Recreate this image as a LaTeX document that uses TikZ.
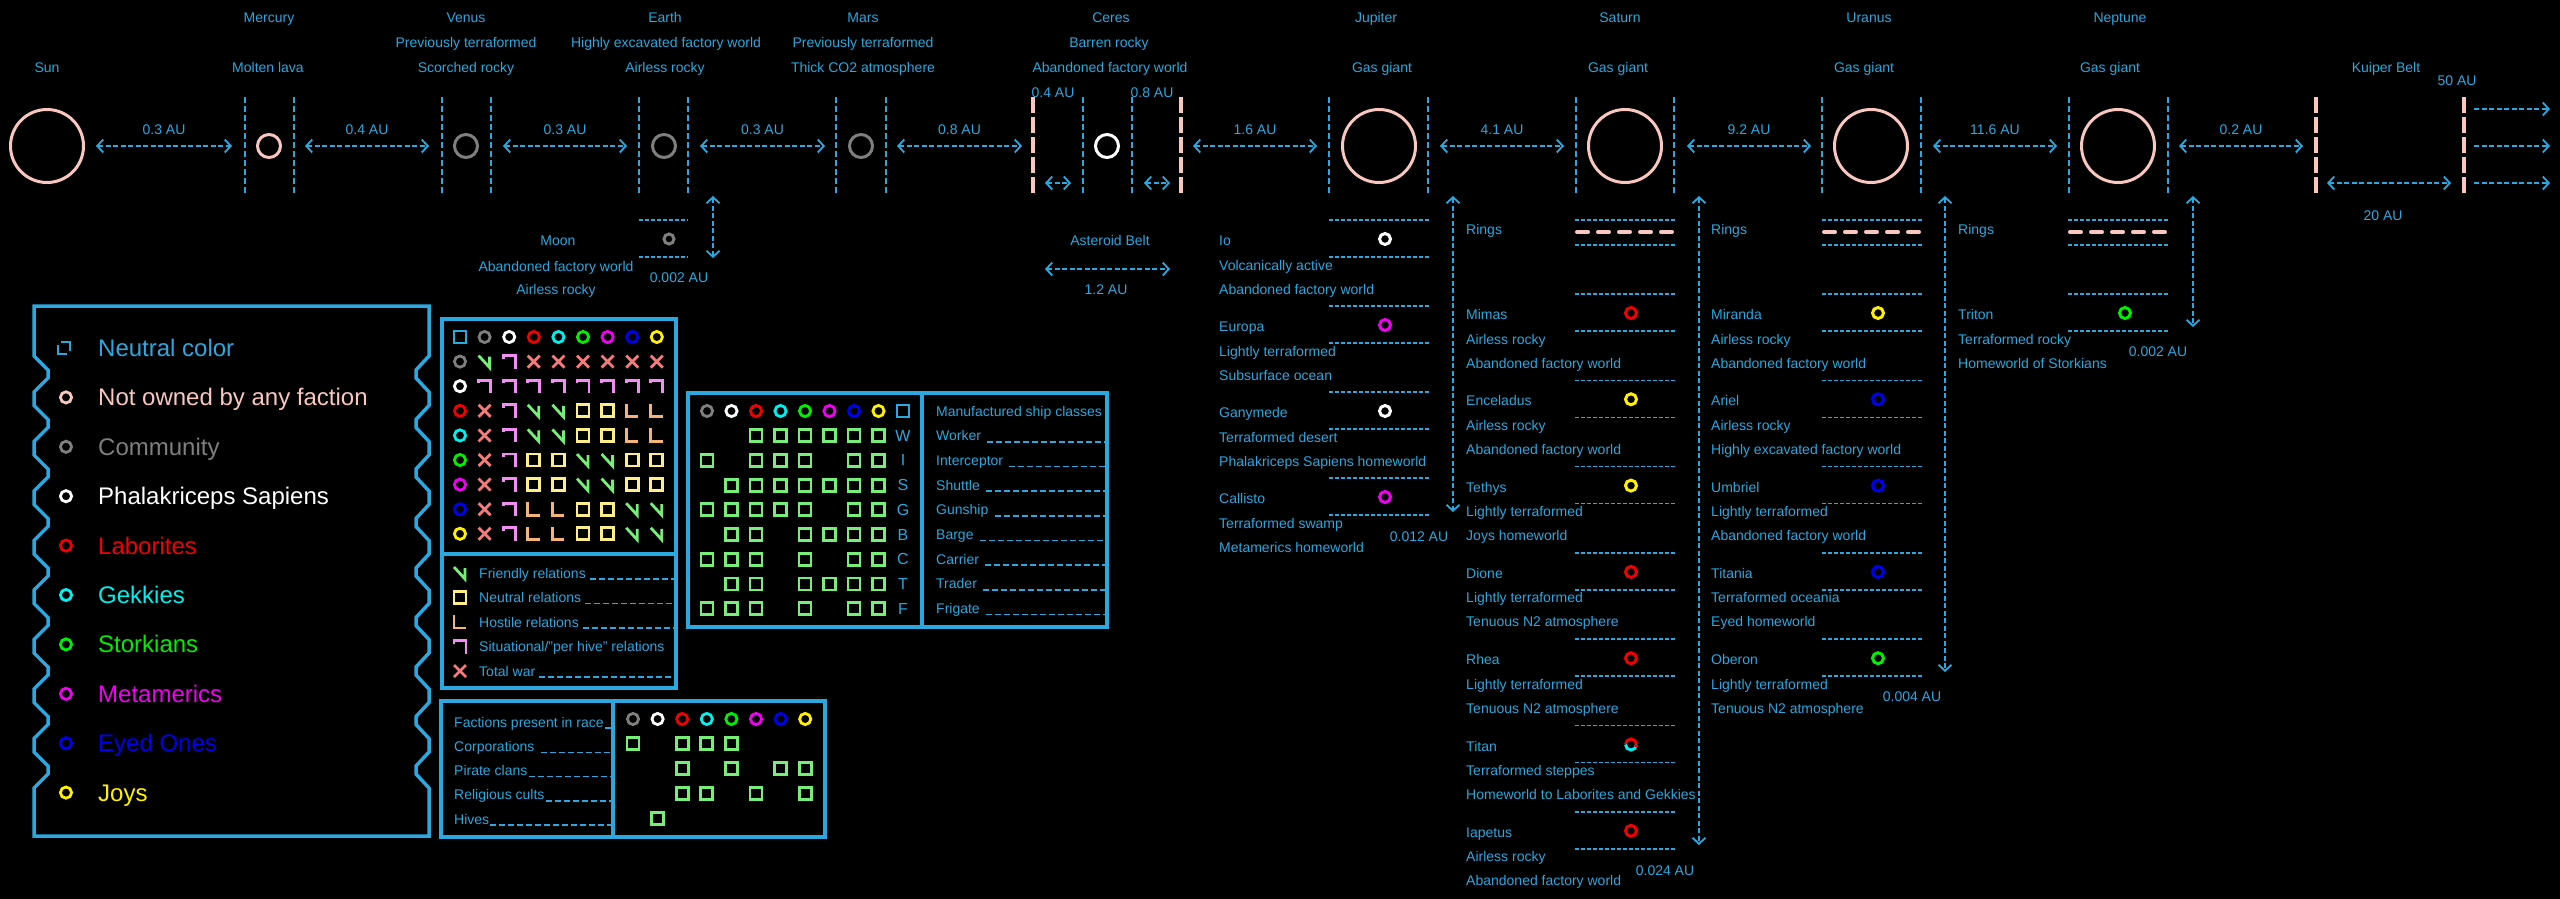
\documentclass[tikz,border=0pt]{standalone}
\usepackage{fontspec}
\setmainfont{Liberation Sans}
\usetikzlibrary{arrows.meta,calc}
\definecolor{cBlue}{HTML}{2AA8DF}
\definecolor{cPink}{HTML}{F9C6C0}
\definecolor{cGray}{HTML}{7F7F7F}
\definecolor{cRed}{HTML}{F00000}
\definecolor{cCyan}{HTML}{00F0F0}
\definecolor{cGreen}{HTML}{00EE00}
\definecolor{cMag}{HTML}{F000F0}
\definecolor{cEyed}{HTML}{0000F0}
\definecolor{cYel}{HTML}{FFF000}
\definecolor{rFriend}{HTML}{77EE77}
\definecolor{rNeut}{HTML}{FFEE88}
\definecolor{rHost}{HTML}{F5B27A}
\definecolor{rSit}{HTML}{F58CF5}
\definecolor{rWar}{HTML}{F57A7A}
\definecolor{sqGreen}{HTML}{77EE77}
\newcommand\fs{\fontsize{14}{16}\selectfont}
\newcommand\fl{\fontsize{24}{28}\selectfont}
\newcommand\fb{\fontsize{16}{18}\selectfont}
\tikzset{
  lbl/.style={text=cBlue, font=\fs, inner sep=0pt, anchor=base},
  lbll/.style={lbl, anchor=base west},
  divider/.style={draw=cBlue, line width=1.6pt, dash pattern=on 6pt off 3pt},
  belt/.style={draw=cPink, line width=3.5pt, dash pattern=on 16pt off 4pt},
  dist/.style={draw=cBlue, line width=1.8pt, dash pattern=on 5pt off 2.5pt,
    arrows={Straight Barb[length=6pt,width=13pt]-Straight Barb[length=6pt,width=13pt]}},
  distr/.style={draw=cBlue, line width=1.8pt, dash pattern=on 5pt off 2.5pt,
    arrows={-Straight Barb[length=6pt,width=13pt]}},
  dotsep/.style={draw=cBlue, line width=1.6pt, dash pattern=on 4pt off 2pt},
  uline/.style={draw=cBlue, line width=1.6pt, dash pattern=on 6pt off 3pt},
  planet/.style={circle, draw=cPink, line width=3pt, inner sep=0pt, minimum size=#1},
  orb/.style={circle, draw=#1, line width=3pt, inner sep=0pt, minimum size=11pt},
  ringdash/.style={draw=cPink, line width=4pt, dash pattern=on 11pt off 10pt, line cap=round},
  panel/.style={draw=cBlue, line width=3.5pt},
  symline/.style={line width=2.8pt},
  legtext/.style={font=\fl, inner sep=0pt, anchor=base west},
}
\newcommand\symV[2]{\draw[symline,rFriend] (#1-6,#2-6) -- (#1+5,#2+6) -- (#1+5,#2-5);}
\newcommand\symS[2]{\draw[symline,rSit] (#1-6,#2-3) -- (#1-6,#2-6) -- (#1+6,#2-6) -- (#1+6,#2+7);}
\newcommand\symL[2]{\draw[symline,rHost] (#1-6,#2-7) -- (#1-6,#2+6) -- (#1+6,#2+6);}
\newcommand\symN[2]{\draw[symline,rNeut] (#1-6,#2-6) rectangle (#1+6,#2+6);}
\newcommand\symX[2]{\draw[symline,rWar] (#1-6,#2-6) -- (#1+6,#2+6) (#1-6,#2+6) -- (#1+6,#2-6);}
\newcommand\symQ[2]{\draw[symline,sqGreen] (#1-6,#2-6) rectangle (#1+6,#2+6);}
\newcommand\symO[2]{}
\newcommand\symB[2]{\draw[symline,cBlue] (#1-6,#2-6) rectangle (#1+6,#2+6);}
\newcommand\symC[3]{\draw[symline,#3] (#1,#2) circle[radius=5.6];}
\newcommand\relrow[2]{\foreach \s [count=\c] in {#2}{\pgfmathsetmacro\xx{460+24.6*\c}\pgfmathsetmacro\yy{337+24.6*#1}\csname sym\s\endcsname{\xx}{\yy}}}
\newcommand\shiprow[3]{\foreach \s [count=\c from 0] in {#2}{\pgfmathsetmacro\xx{707+24.5*\c}\pgfmathsetmacro\yy{411+24.7*#1}\csname sym\s\endcsname{\xx}{\yy}}
  \node[text=cBlue,font=\fb,inner sep=0pt] (ship#3) at (903,411+24.7*#1) {#3};}
\newcommand\facrow[2]{\foreach \s [count=\c from 0] in {#2}{\pgfmathsetmacro\xx{633+24.6*\c}\pgfmathsetmacro\yy{719+24.8*#1}\csname sym\s\endcsname{\xx}{\yy}}}
\begin{document}
\begin{tikzpicture}[x=1pt,y=-1pt]
\useasboundingbox (0,0) rectangle (2560,899);
\fill[black] (0,0) rectangle (2560,899);

% ---------------- top row: bodies ----------------
\node[planet=73pt] (sun) at (47,146) {};
\node[planet=23pt] (mercury) at (269,146) {};
\node[planet=23pt, draw=cGray] (venus) at (466,146) {};
\node[planet=23pt, draw=cGray] (earth) at (664,146) {};
\node[planet=23pt, draw=cGray] (mars) at (861,146) {};
\node[planet=23pt, draw=white] (ceres) at (1107,146) {};
\node[planet=73pt] (jupiter) at (1379,146) {};
\node[planet=73pt] (saturn) at (1625,146) {};
\node[planet=73pt] (uranus) at (1871,146) {};
\node[planet=73pt] (neptune) at (2118,146) {};

% dividers
\foreach \x in {245,294,442,491,639,688,836,886,1083,1132,1329,1428,1576,1674,1822,1921,2069,2168}{
  \draw[divider] (\x,97) -- (\x,196);}
\foreach \x in {1033,1181,2316,2464}{
  \draw[belt] (\x,97) -- (\x,193);}

% labels
\node[lbl] (lsun) at (47,73) {Sun};
\node[lbl] (lmer1) at (269,23) {Mercury};
\node[lbl] (lmer2) at (268,73) {Molten lava};
\node[lbl] (lven1) at (466,23) {Venus};
\node[lbl] (lven2) at (466,48) {Previously terraformed};
\node[lbl] (lven3) at (466,73) {Scorched rocky};
\node[lbl] (lear1) at (665,23) {Earth};
\node[lbl] (lear2) at (666,48) {Highly excavated factory world};
\node[lbl] (lear3) at (665,73) {Airless rocky};
\node[lbl] (lmar1) at (863,23) {Mars};
\node[lbl] (lmar2) at (863,48) {Previously terraformed};
\node[lbl] (lmar3) at (863,73) {Thick CO2 atmosphere};
\node[lbl] (lcer1) at (1111,23) {Ceres};
\node[lbl] (lcer2) at (1109,48) {Barren rocky};
\node[lbl] (lcer3) at (1110,73) {Abandoned factory world};
\node[lbl] (ljup1) at (1376,23) {Jupiter};
\node[lbl] (ljup2) at (1382,73) {Gas giant};
\node[lbl] (lsat1) at (1620,23) {Saturn};
\node[lbl] (lsat2) at (1618,73) {Gas giant};
\node[lbl] (lura1) at (1869,23) {Uranus};
\node[lbl] (lura2) at (1864,73) {Gas giant};
\node[lbl] (lnep1) at (2120,23) {Neptune};
\node[lbl] (lnep2) at (2110,73) {Gas giant};
\node[lbl] (lkui) at (2386,73) {Kuiper Belt};
\node[lbl] (l50) at (2457,85) {50 AU};

% distance arrows
\foreach \n/\a/\b/\t in {1/96/232/0.3 AU, 2/305/429/0.4 AU, 3/503/627/0.3 AU, 4/700/825/0.3 AU,
  5/897/1022/0.8 AU, 6/1193/1317/1.6 AU, 7/1440/1564/4.1 AU, 8/1687/1811/9.2 AU,
  9/1933/2057/11.6 AU, 10/2179/2303/0.2 AU}{
  \coordinate (da\n) at (\a,146);
  \coordinate (db\n) at (\b,146);
  \draw[dist] (da\n) -- (db\n);
  \node[lbl] (dl\n) at ({(\a+\b)/2},134) {\t};
}

% Ceres belt
\coordinate (cb1a) at (1045,183); \coordinate (cb1b) at (1071,183);
\coordinate (cb2a) at (1144,183); \coordinate (cb2b) at (1170,183);
\draw[dist] (cb1a) -- (cb1b);
\draw[dist] (cb2a) -- (cb2b);
\node[lbl] (lcb1) at (1053,97) {0.4 AU};
\node[lbl] (lcb2) at (1152,97) {0.8 AU};
\node[lbl] (lab) at (1110,245) {Asteroid Belt};
\coordinate (ab1) at (1045,269); \coordinate (ab2) at (1170,269);
\draw[dist] (ab1) -- (ab2);
\node[lbl] (lab2) at (1106,294) {1.2 AU};

% Kuiper belt
\coordinate (kb1) at (2327,183); \coordinate (kb2) at (2451,183);
\draw[dist] (kb1) -- (kb2);
\node[lbl] (lkb) at (2383,220) {20 AU};
\foreach \y [count=\i] in {109,146,183}{
  \coordinate (ko\i) at (2474,\y); \coordinate (kt\i) at (2550,\y);
  \draw[distr] (ko\i) -- (kt\i);}

% ---------------- Earth's moon ----------------
\draw[dotsep] (639,220) -- (688,220) (639,257) -- (688,257);
\node[orb=cGray, minimum size=10pt] (moon) at (669,239) {};
\coordinate (ema) at (713,196); \coordinate (emb) at (713,258);
\draw[dist] (ema) -- (emb);
\node[lbl] (lema) at (679,282) {0.002 AU};
\node[lbl] (lmoon1) at (558,245) {Moon};
\node[lbl] (lmoon2) at (556,271) {Abandoned factory world};
\node[lbl] (lmoon3) at (556,294) {Airless rocky};

% ---------------- Jupiter's moons ----------------
\coordinate (jma) at (1453,196); \coordinate (jmb) at (1453,512);
\draw[dist] (jma) -- (jmb);
\node[lbl] (ljm) at (1419,541) {0.012 AU};
\foreach \k/\c/\nm/\la/\lb in {0/white/Io/Volcanically active/Abandoned factory world,
  1/cMag/Europa/Lightly terraformed/Subsurface ocean,
  2/white/Ganymede/Terraformed desert/Phalakriceps Sapiens homeworld,
  3/cMag/Callisto/Terraformed swamp/Metamerics homeworld}{
  \pgfmathsetmacro\cy{239+86*\k}
  \draw[dotsep] (1329,\cy-19) -- (1429,\cy-19) (1329,\cy+18) -- (1429,\cy+18);
  \node[orb=\c] (jm\k) at (1385,\cy) {};
  \node[lbll] (jn\k) at (1219,\cy+6.5) {\nm};
  \node[lbll] (ja\k) at (1219,\cy+31) {\la};
  \node[lbll] (jb\k) at (1219,\cy+55) {\lb};
}

% ---------------- ring rows ----------------
\foreach \n/\x/\lx in {sat/1575/1466, ura/1822/1711, nep/2068/1958}{
  \draw[dotsep] (\x,220) -- (\x+100,220) (\x,245) -- (\x+100,245);
  \draw[ringdash] (\x+2,232) -- (\x+97,232);
  \node[lbll] (ring\n) at (\lx,234) {Rings};
}

% ---------------- Saturn's moons ----------------
\coordinate (sma) at (1699,196); \coordinate (smb) at (1699,845);
\draw[dist] (sma) -- (smb);
\node[lbl] (lsm) at (1665,875) {0.024 AU};
\foreach \k/\c/\nm/\la/\lb in {0/cRed/Mimas/Airless rocky/Abandoned factory world,
  1/cYel/Enceladus/Airless rocky/Abandoned factory world,
  2/cYel/Tethys/Lightly terraformed/Joys homeworld,
  3/cRed/Dione/Lightly terraformed/Tenuous N2 atmosphere,
  4/cRed/Rhea/Lightly terraformed/Tenuous N2 atmosphere,
  5/none/Titan/Terraformed steppes/Homeworld to Laborites and Gekkies,
  6/cRed/Iapetus/Airless rocky/Abandoned factory world}{
  \pgfmathsetmacro\cy{313+86.3*\k}
  \draw[dotsep] (1575,\cy-19) -- (1675,\cy-19) (1575,\cy+18) -- (1675,\cy+18);
  \node[orb=\c] (sm\k) at (1631,\cy) {};
  \node[lbll] (sn\k) at (1466,\cy+6.5) {\nm};
  \node[lbll] (sa\k) at (1466,\cy+31) {\la};
  \node[lbll] (sb\k) at (1466,\cy+55) {\lb};
}
\draw[line width=3pt, cRed] ([xshift=5.5pt]sm5.center) arc[start angle=0, end angle=-180, radius=5.5];
\draw[line width=3pt, cCyan] ([xshift=5.5pt]sm5.center) arc[start angle=0, end angle=180, radius=5.5];
\draw[line width=3pt, cRed] ([xshift=5.5pt]sm5.center) arc[start angle=0, end angle=30, radius=5.5];

% ---------------- Uranus' moons ----------------
\coordinate (uma) at (1945,196); \coordinate (umb) at (1945,672);
\draw[dist] (uma) -- (umb);
\node[lbl] (lum) at (1912,701) {0.004 AU};
\foreach \k/\c/\nm/\la/\lb in {0/cYel/Miranda/Airless rocky/Abandoned factory world,
  1/cEyed/Ariel/Airless rocky/Highly excavated factory world,
  2/cEyed/Umbriel/Lightly terraformed/Abandoned factory world,
  3/cEyed/Titania/Terraformed oceania/Eyed homeworld,
  4/cGreen/Oberon/Lightly terraformed/Tenuous N2 atmosphere}{
  \pgfmathsetmacro\cy{313+86.3*\k}
  \draw[dotsep] (1822,\cy-19) -- (1922,\cy-19) (1822,\cy+18) -- (1922,\cy+18);
  \node[orb=\c] (um\k) at (1878,\cy) {};
  \node[lbll] (un\k) at (1711,\cy+6.5) {\nm};
  \node[lbll] (ua\k) at (1711,\cy+31) {\la};
  \node[lbll] (ub\k) at (1711,\cy+55) {\lb};
}

% ---------------- Neptune's moon ----------------
\coordinate (nma) at (2193,196); \coordinate (nmb) at (2193,327);
\draw[dist] (nma) -- (nmb);
\node[lbl] (lnm) at (2158,356) {0.002 AU};
\draw[dotsep] (2068,294) -- (2168,294) (2068,331) -- (2168,331);
\node[orb=cGreen] (triton) at (2125,313) {};
\node[lbll] (tn) at (1958,319.5) {Triton};
\node[lbll] (ta) at (1958,344) {Terraformed rocky};
\node[lbll] (tb) at (1958,368) {Homeworld of Storkians};

% ---------------- faction legend panel ----------------
\draw[panel] (34,306) -- (429,306)
  foreach \k in {0,...,8}{ -- (429,356+49.5*\k) -- (416,370+49.5*\k) -- (416,378+49.5*\k) -- (429,392+49.5*\k)}
  -- (429,836) -- (34,836)
  foreach \k in {8,7,...,0}{ -- (34,392+49.5*\k) -- (48,378+49.5*\k) -- (48,370+49.5*\k) -- (34,356+49.5*\k)}
  -- cycle;
\draw[line width=2.8pt, cBlue] (61,342) -- (70,342) -- (70,351) (58,345) -- (58,354) -- (67,354);
\foreach \c/\t [count=\i] in {cPink/Not owned by any faction, cGray/Community, white/Phalakriceps Sapiens,
  cRed/Laborites, cCyan/Gekkies, cGreen/Storkians, cMag/Metamerics, cEyed/Eyed Ones, cYel/Joys}{
  \symC{66}{348+49.4*\i}{\c}
  \node[legtext, text=\c] (fl\i) at (98,356.5+49.4*\i) {\t};
}
\node[legtext, text=cBlue] (fl0) at (98,356.5) {Neutral color};

% ---------------- relation matrix ----------------
\draw[panel] (442,319) rectangle (676,688);
\draw[panel] (442,554) -- (676,554);
\symB{460}{337}
\foreach \col [count=\i] in {cGray,white,cRed,cCyan,cGreen,cMag,cEyed,cYel}{
  \symC{460+24.6*\i}{337}{\col}
  \symC{460}{337+24.6*\i}{\col}
}
\relrow{1}{V,S,X,X,X,X,X,X}
\relrow{2}{S,S,S,S,S,S,S,S}
\relrow{3}{X,S,V,V,N,N,L,L}
\relrow{4}{X,S,V,V,N,N,L,L}
\relrow{5}{X,S,N,N,V,V,N,N}
\relrow{6}{X,S,N,N,V,V,N,N}
\relrow{7}{X,S,L,L,N,N,V,V}
\relrow{8}{X,S,L,L,N,N,V,V}
\coordinate (relR) at (676,0);
\foreach \s/\t [count=\i from 0] in {V/{Friendly relations}, N/{Neutral relations}, L/{Hostile relations},
  S/{Situational/"per hive" relations}, X/{Total war}}{
  \pgfmathsetmacro\yy{573+24.5*\i}
  \csname sym\s\endcsname{460}{\yy}
  \node[lbll] (rl\i) at (479,\yy+5) {\t};
}
\foreach \i in {0,1,2,4}{
  \draw[uline] ([xshift=4pt,yshift=-1pt]rl\i.base east) -- ([yshift=-1pt]rl\i.base east -| relR);}

% ---------------- ship classes ----------------
\draw[panel] (688,393) rectangle (1107,627);
\draw[panel] (922,393) -- (922,627);
\foreach \col [count=\i from 0] in {cGray,white,cRed,cCyan,cGreen,cMag,cEyed,cYel}{
  \symC{707+24.5*\i}{411}{\col}}
\symB{903}{411}
\shiprow{1}{O,O,Q,Q,Q,Q,Q,Q}{W}
\shiprow{2}{Q,O,Q,Q,Q,O,Q,Q}{I}
\shiprow{3}{O,Q,Q,Q,Q,Q,Q,Q}{S}
\shiprow{4}{Q,Q,Q,Q,Q,O,Q,Q}{G}
\shiprow{5}{O,Q,Q,O,Q,Q,Q,Q}{B}
\shiprow{6}{Q,Q,Q,O,Q,O,Q,Q}{C}
\shiprow{7}{O,Q,Q,O,Q,Q,Q,Q}{T}
\shiprow{8}{Q,Q,Q,O,Q,O,Q,Q}{F}
\node[lbll] (shead) at (936,416) {Manufactured ship classes};
\coordinate (shipR) at (1107,0);
\foreach \t [count=\i] in {Worker,Interceptor,Shuttle,Gunship,Barge,Carrier,Trader,Frigate}{
  \node[lbll] (sc\i) at (936,416+24.7*\i) {\t};
  \draw[uline] ([xshift=6pt,yshift=-1pt]sc\i.base east) -- ([yshift=-1pt]sc\i.base east -| shipR);
}

% ---------------- factions in races ----------------
\draw[panel] (441,701) rectangle (825,837);
\draw[panel] (613,701) -- (613,837);
\foreach \col [count=\i from 0] in {cGray,white,cRed,cCyan,cGreen,cMag,cEyed,cYel}{
  \symC{633+24.6*\i}{719}{\col}}
\facrow{1}{Q,O,Q,Q,Q,O,O,O}
\facrow{2}{O,O,Q,O,Q,O,Q,Q}
\facrow{3}{O,O,Q,Q,O,Q,O,Q}
\facrow{4}{O,Q,O,O,O,O,O,O}
\coordinate (facR) at (611,0);
\foreach \t/\g [count=\i from 0] in {Factions present in race/1, Corporations/6, Pirate clans/1, Religious cults/1, Hives/1}{
  \node[lbll] (fr\i) at (454,727+24.3*\i) {\t};
  \draw[uline] ([xshift=\g pt,yshift=-1pt]fr\i.base east) -- ([yshift=-1pt]fr\i.base east -| facR);
}
\end{tikzpicture}
\end{document}
